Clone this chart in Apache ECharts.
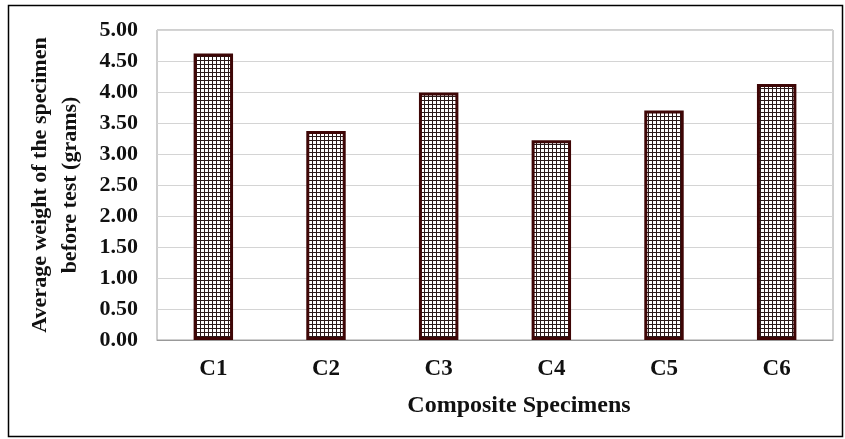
<!DOCTYPE html>
<html><head><meta charset="utf-8">
<script src="https://cdn.jsdelivr.net/npm/echarts@6/dist/echarts.min.js"></script>
<style>html,body{margin:0;padding:0;background:#fff}#c{width:845px;height:439px}</style>
</head><body><div id="c"></div>
<script>
const categories = ['C1','C2','C3','C4','C5','C6'];
const values = [4.62, 3.37, 3.99, 3.22, 3.70, 4.13];
const yTicks = [0, 0.5, 1, 1.5, 2, 2.5, 3, 3.5, 4, 4.5, 5];

function makePattern(){
  const c = document.createElement('canvas');
  c.width = 4; c.height = 4;
  const g = c.getContext('2d');
  g.fillStyle = '#ffffff'; g.fillRect(0,0,4,4);
  g.fillStyle = '#2a1a1a';
  g.fillRect(0,0,4,1);
  g.fillRect(0,0,1,4);
  return c;
}

const chart = echarts.init(document.getElementById('c'), null, {renderer:'canvas'});
chart.setOption({
  animation:false,
  grid:{left:157, right:12, top:30, bottom:99, show:true, borderColor:'#a0a0a0', borderWidth:1},
  xAxis:{type:'category', data:categories,
    axisLine:{lineStyle:{color:'#999'}}, axisTick:{show:false},
    axisLabel:{fontFamily:'Liberation Serif', fontWeight:'bold', fontSize:23, color:'#111', margin:18},
    name:'Composite Specimens', nameLocation:'middle', nameGap:54,
    nameTextStyle:{fontFamily:'Liberation Serif', fontWeight:'bold', fontSize:24, color:'#111', padding:[0,0,0,48]}},
  yAxis:{type:'value', min:yTicks[0], max:yTicks[yTicks.length-1], interval:0.5,
    axisLabel:{fontFamily:'Liberation Serif', fontWeight:'bold', fontSize:22, color:'#111', margin:19,
      formatter:v=>v.toFixed(2)},
    splitLine:{lineStyle:{color:'#d4d4d4'}},
    name:'Average weight of the specimen\nbefore test (grams)', nameLocation:'middle', nameGap:72,
    nameTextStyle:{fontFamily:'Liberation Serif', fontWeight:'bold', fontSize:22, color:'#111', lineHeight:30}},
  series:[{type:'bar', data:values, barWidth:'35%',
    itemStyle:{color:{image:makePattern(), repeat:'repeat'}, borderColor:'#3e0606', borderWidth:3}}],
  graphic:[{type:'rect', shape:{x:8.5, y:5.5, width:834, height:431}, style:{fill:'none', stroke:'#000', lineWidth:1.5}, silent:true}]
});
</script></body></html>
